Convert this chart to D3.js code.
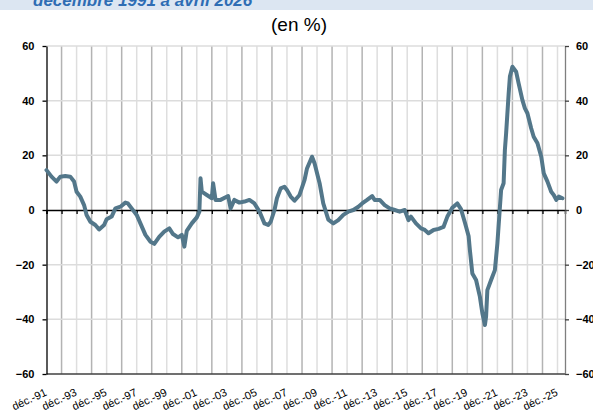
<!DOCTYPE html>
<html>
<head>
<meta charset="utf-8">
<script src="https://cdn.jsdelivr.net/npm/d3@7"></script>
<style>
  body { margin: 0; background: #fff; }
  text { font-family: "Liberation Sans", Arial, sans-serif; }
</style>
</head>
<body>
<script>
// Data: monthly points (YYYY-MM) and values in %
var months = [
  "1991-12","1992-04","1992-08","1992-11","1993-03","1993-07","1993-10","1993-12",
  "1994-03","1994-06","1994-08","1994-11","1995-03","1995-06","1995-10","1995-12",
  "1996-04","1996-07","1996-11","1997-03","1997-05","1997-08","1997-12","1998-03",
  "1998-07","1998-11","1999-02","1999-06","1999-10","2000-02","2000-05","2000-09",
  "2000-12","2001-02","2001-04","2001-08","2001-12","2002-02","2002-03","2002-04",
  "2002-08","2002-12","2003-01","2003-03","2003-07","2004-01","2004-03","2004-06",
  "2004-10","2005-02","2005-06","2005-10","2006-02","2006-06","2006-09","2006-11",
  "2007-02","2007-04","2007-07","2007-10","2007-12","2008-03","2008-06","2008-10",
  "2009-02","2009-04","2009-08","2009-10","2010-02","2010-05","2010-09","2011-01",
  "2011-05","2011-09","2012-01","2012-05","2012-09","2012-12","2013-04","2013-08",
  "2013-10","2014-02","2014-06","2014-10","2015-02","2015-06","2015-10","2016-01",
  "2016-03","2016-07","2016-11","2017-02","2017-05","2017-09","2018-01","2018-05",
  "2018-08","2018-12","2019-04","2019-07","2019-10","2020-01","2020-02","2020-04",
  "2020-07","2020-10","2020-12","2021-02","2021-03","2021-04","2021-07","2021-10",
  "2021-12","2022-02","2022-03","2022-05","2022-06","2022-07","2022-09","2022-10",
  "2022-12","2023-03","2023-05","2023-08","2023-10","2023-12","2024-03","2024-05",
  "2024-08","2024-11","2025-01","2025-04","2025-07","2025-09","2025-11","2026-01",
  "2026-04"
];
var values = [
  14.6, 12.2, 10.4, 12.2, 12.4, 12.2, 10.4, 6.7,
  4.9, 1.8, -1.8, -4.3, -5.5, -7.1, -5.5, -3.4,
  -2.4, 0.6, 1.2, 2.7, 2.4, 0.6, -1.8, -4.9,
  -9.1, -11.6, -12.4, -9.8, -7.9, -6.7, -8.8, -10,
  -9.1, -13.4, -7.6, -4.9, -2.7, -0.6, 11.6, 6.7,
  5.5, 4.3, 9.8, 3.7, 3.7, 5.1, 0.6, 3.7,
  2.7, 3.1, 3.7, 2.4, -0.6, -4.9, -5.5, -4.3,
  0, 4.3, 7.9, 8.5, 7.3, 4.9, 3.4, 5.5,
  11, 15.2, 19.5, 17.1, 9.8, 2.4, -3.5, -4.9,
  -3.7, -1.8, -0.6, 0, 1.2, 2.4, 3.7, 5.1,
  3.7, 3.7, 1.8, 0.6, 0, -0.6, 0, -3.7,
  -2.4, -4.9, -6.7, -7.3, -8.5, -7.3, -6.9, -6.2,
  -2.5, 0.8, 2.4, 0.3, -4.5, -9.5, -14.6, -23.2,
  -25.6, -31.7, -37.8, -42.1, -39, -29.3, -25.6, -22,
  -12.2, 1.2, 7.3, 9.8, 22, 28, 42.7, 48.8,
  52.4, 50.6, 46.3, 40.2, 37.2, 35.4, 29.9, 26.8,
  24.4, 19.5, 13.4, 10.4, 6.7, 5.5, 3.7, 4.9,
  4.3
];

// Axis ticks and labels
var yTicks = [-60, -40, -20, 0, 20, 40, 60];
var labelMonths = ["1991-12","1993-12","1995-12","1997-12","1999-12","2001-12","2003-12",
  "2005-12","2007-12","2009-12","2011-12","2013-12","2015-12","2017-12","2019-12",
  "2021-12","2023-12","2025-12"];
var labelTexts = ["déc.-91","déc.-93","déc.-95","déc.-97","déc.-99","déc.-01","déc.-03",
  "déc.-05","déc.-07","déc.-09","déc.-11","déc.-13","déc.-15","déc.-17","déc.-19",
  "déc.-21","déc.-23","déc.-25"];

var svgWidth = 593;
var svgHeight = 412;

var plot = { left: 46.5, right: 565, top: 46, bottom: 374 };

var parseMonth = d3.timeParse("%Y-%m");

var data = months.map(function (m, i) {
  return { date: parseMonth(m), value: values[i] };
});

var svg = d3.select("body")
  .append("svg")
  .attr("width", svgWidth)
  .attr("height", svgHeight);

// header band (title cut at top)
svg.append("rect")
  .attr("x", 0).attr("y", 0)
  .attr("width", svgWidth).attr("height", 10)
  .attr("fill", "#dce6f2");

svg.append("text")
  .attr("x", 33)
  .attr("y", 6)
  .attr("fill", "#2e6db4")
  .attr("font-size", 17)
  .attr("font-weight", "bold")
  .attr("font-style", "italic")
  .text("décembre 1991 à avril 2026");

svg.append("text")
  .attr("x", 299)
  .attr("y", 31)
  .attr("text-anchor", "middle")
  .attr("font-size", 19)
  .attr("fill", "#000")
  .text("(en %)");

// scales
var xScale = d3.scaleTime()
  .domain([parseMonth("1991-12"), parseMonth("2026-06")])
  .range([plot.left, plot.right]);

var yScale = d3.scaleLinear()
  .domain([-60, 60])
  .range([plot.bottom, plot.top]);

// vertical gridlines, every december
var gridYears = d3.range(1992, 2026);
svg.append("g")
  .selectAll("line")
  .data(gridYears)
  .enter().append("line")
    .attr("x1", d => xScale(new Date(d, 11, 1)))
    .attr("x2", d => xScale(new Date(d, 11, 1)))
    .attr("y1", plot.top)
    .attr("y2", plot.bottom)
    .attr("stroke", d => d % 2 === 0 ? "#b3b3b3" : "#dedede")
    .attr("stroke-width", 1.5);

// horizontal gridlines
svg.append("g")
  .selectAll("line")
  .data(yTicks.filter(d => d !== 0 && d !== -60))
  .enter().append("line")
    .attr("x1", plot.left)
    .attr("x2", plot.right)
    .attr("y1", d => yScale(d))
    .attr("y2", d => yScale(d))
    .attr("stroke", "#dcdcdc")
    .attr("stroke-width", 1.5);

// bottom border
svg.append("line")
  .attr("x1", plot.left).attr("x2", plot.right)
  .attr("y1", plot.bottom).attr("y2", plot.bottom)
  .attr("stroke", "#404040")
  .attr("stroke-width", 1.3);

// zero axis with yearly ticks
var zeroAxis = d3.axisBottom(xScale)
  .tickValues(d3.range(1991, 2026).map(y => new Date(y, 11, 1)))
  .tickSize(4)
  .tickFormat("");

svg.append("g")
  .attr("transform", `translate(0, ${yScale(0)})`)
  .call(zeroAxis)
  .call(g => g.select(".domain").attr("stroke", "#000").attr("stroke-width", 1.5))
  .call(g => g.selectAll(".tick line").attr("stroke", "#000").attr("stroke-width", 1.3));

// left axis
var leftAxis = d3.axisLeft(yScale)
  .tickValues(yTicks)
  .tickSize(4)
  .tickSizeOuter(0)
  .tickPadding(8);

svg.append("g")
  .attr("transform", `translate(${plot.left}, 0)`)
  .call(leftAxis)
  .call(g => g.select(".domain").attr("stroke", "#000").attr("stroke-width", 1.3))
  .call(g => g.selectAll(".tick line").attr("stroke", "#000").attr("stroke-width", 1.3))
  .call(g => g.selectAll("text")
    .attr("font-family", "'Liberation Sans', Arial, sans-serif")
    .attr("font-size", 11)
    .attr("font-weight", "bold")
    .attr("fill", "#000"));

// right axis
var rightAxis = d3.axisRight(yScale)
  .tickValues(yTicks)
  .tickSize(4)
  .tickSizeOuter(0)
  .tickPadding(7);

svg.append("g")
  .attr("transform", `translate(${plot.right}, 0)`)
  .call(rightAxis)
  .call(g => g.select(".domain").attr("stroke", "#7f7f7f").attr("stroke-width", 1.3))
  .call(g => g.selectAll(".tick line").attr("stroke", "#404040").attr("stroke-width", 1.3))
  .call(g => g.selectAll("text")
    .attr("font-family", "'Liberation Sans', Arial, sans-serif")
    .attr("font-size", 11)
    .attr("font-weight", "bold")
    .attr("fill", "#000"));

// x labels, rotated
svg.append("g")
  .selectAll("text")
  .data(labelMonths)
  .enter().append("text")
    .attr("transform", (d, i) => `translate(${xScale(parseMonth(d)) + 1}, 395) rotate(-25)`)
    .attr("text-anchor", "end")
    .attr("font-size", 11)
    .attr("fill", "#000")
    .text((d, i) => labelTexts[i]);

// the line
var line = d3.line()
  .x(d => xScale(d.date))
  .y(d => yScale(d.value));

svg.append("path")
  .datum(data)
  .attr("d", line)
  .attr("fill", "none")
  .attr("stroke", "#53778a")
  .attr("stroke-width", 4)
  .attr("stroke-linejoin", "round")
  .attr("stroke-linecap", "round");
</script>
</body>
</html>
